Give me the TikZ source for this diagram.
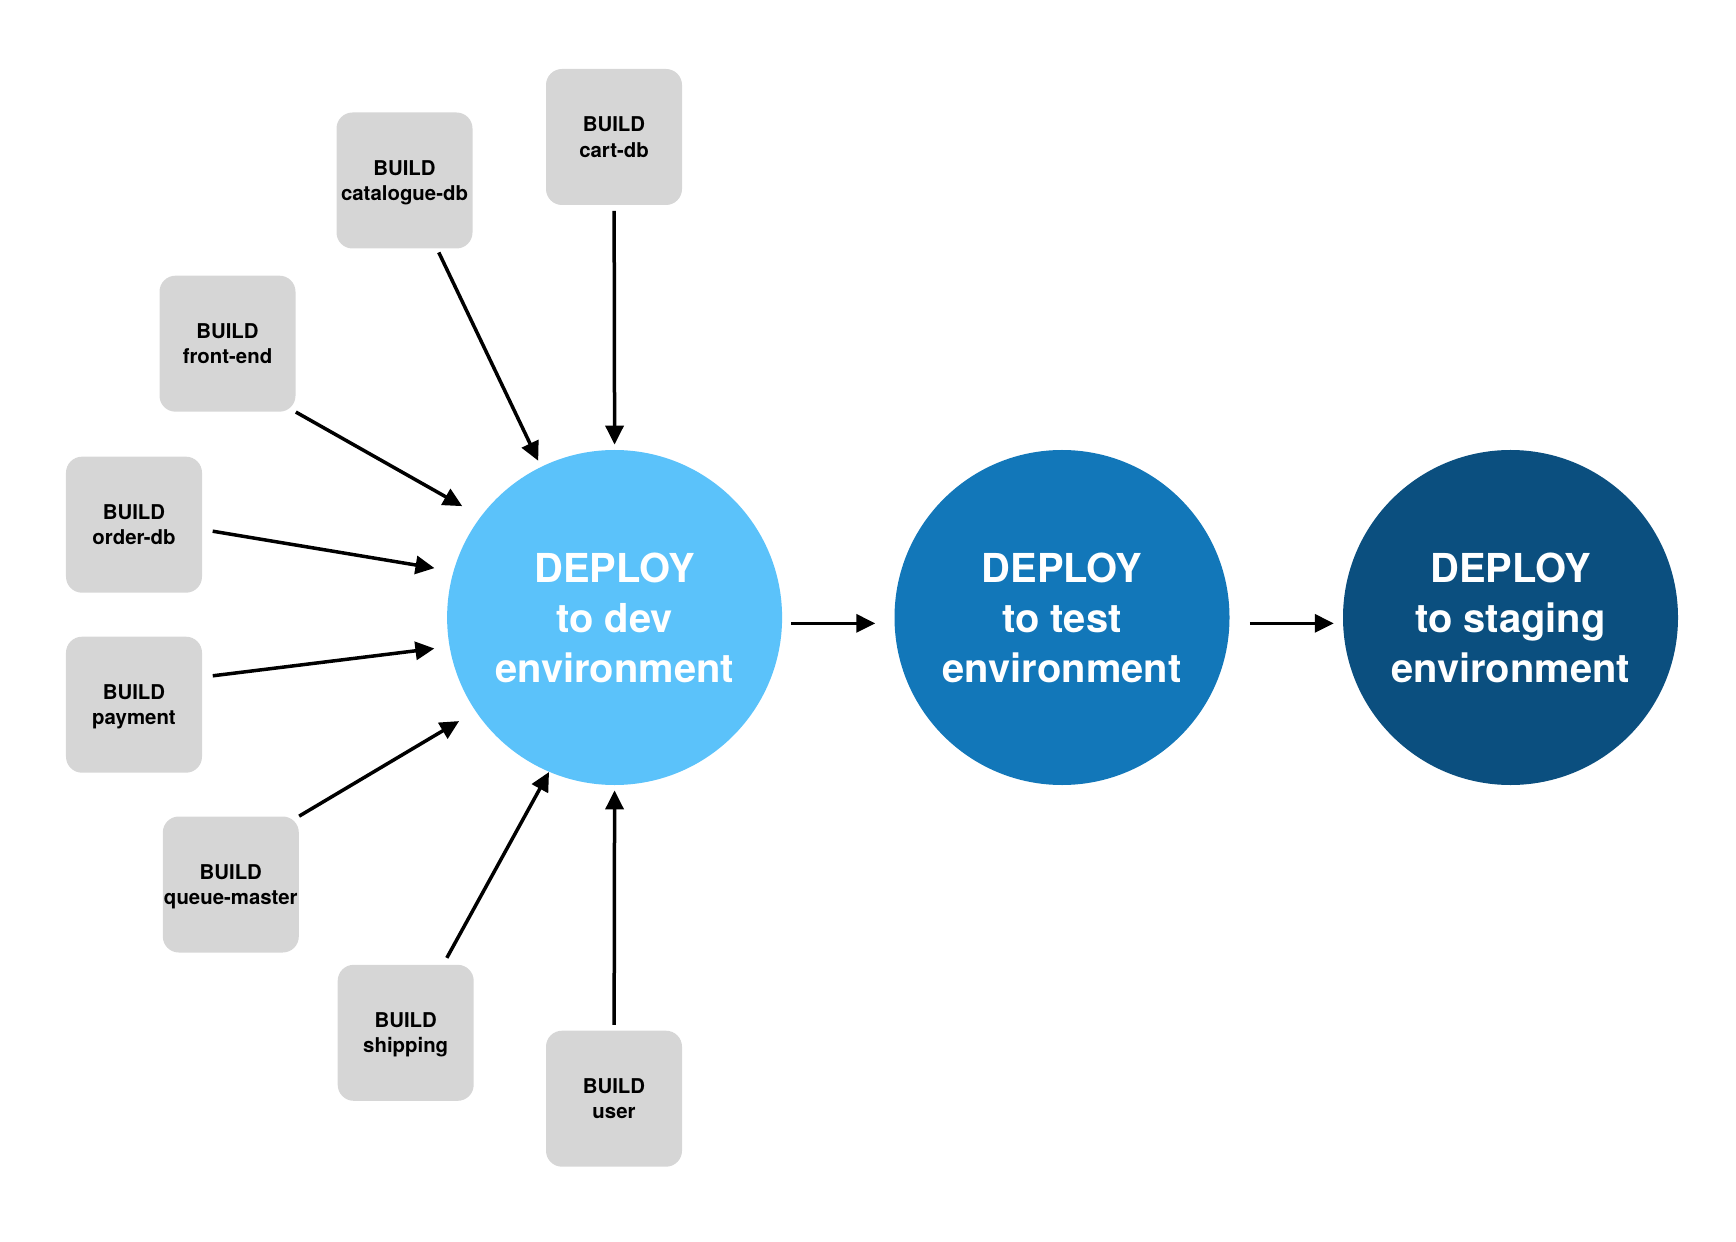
\documentclass[tikz,border=0pt]{standalone}
\usepackage{fontspec}
\setmainfont{TeX Gyre Heros}
\usetikzlibrary{arrows.meta}
\definecolor{boxgray}{HTML}{D6D6D6}
\definecolor{devblue}{HTML}{5BC2FA}
\definecolor{testblue}{HTML}{1277B9}
\definecolor{stageblue}{HTML}{0B4F7F}
\begin{document}
\begin{tikzpicture}[x=0.2mm, y=-0.2mm,
    build/.style={rectangle, rounded corners=3.2mm, fill=boxgray, minimum width=27.2mm, minimum height=27.2mm,
        inner sep=0pt, align=center, text depth=0pt, font=\bfseries\fontsize{11.6}{14.4}\selectfont},
    deploy/.style={circle, minimum size=67mm, inner sep=0pt, text=white, align=center, text depth=-0.8mm,
        font=\bfseries\fontsize{22.7}{28.5}\selectfont},
    flow/.style={-{Triangle[length=3.8mm, width=3.6mm]}, line width=0.7mm}]
    \useasboundingbox (0,0) rectangle (1736,1242);

    \node[deploy, fill=devblue] (dev) at (614.6,617.5) {DEPLOY\\to dev\\environment};
    \node[deploy, fill=testblue] (test) at (1062,617.5) {DEPLOY\\to test\\environment};
    \node[deploy, fill=stageblue] (stage) at (1510.5,617.5) {DEPLOY\\to staging\\environment};

    \node[build] (cart) at (614,137) {BUILD\\cart-db};
    \node[build] (cat) at (404.5,180.5) {BUILD\\catalogue-db};
    \node[build] (fe) at (227.5,343.7) {BUILD\\front-end};
    \node[build] (od) at (134,524.7) {BUILD\\order-db};
    \node[build] (pm) at (134,704.7) {BUILD\\payment};
    \node[build] (qm) at (230.8,884.5) {BUILD\\queue-master};
    \node[build] (sh) at (405.7,1032.8) {BUILD\\shipping};
    \node[build] (us) at (614,1098.7) {BUILD\\user};

    \path[flow]
    (cart) edge [shorten <=1.1mm, shorten >=1mm] (dev.90)
    (cat) edge [shorten <=0.8mm, shorten >=1.3mm] (dev.116)
    (fe.south east) edge [shorten >=4.2mm] (dev.143)
    (od.-4) edge [shorten <=2.1mm, shorten >=3.8mm] (dev.164)
    (pm.22) edge [shorten <=2.1mm, shorten >=3mm] (dev.190)
    (qm.north east) edge [shorten >=3.8mm] (dev.214)
    (sh) edge [shorten <=1.5mm] (dev.247)
    (us) edge [shorten <=1.1mm, shorten >=1mm] (dev.270);

    \draw[flow, shorten <=1.8mm, shorten >=3.8mm] (dev.-2) -- (test.182);
    \draw[flow, shorten <=4mm, shorten >=1.8mm] (test.-2) -- (stage.182);
\end{tikzpicture}
\end{document}
